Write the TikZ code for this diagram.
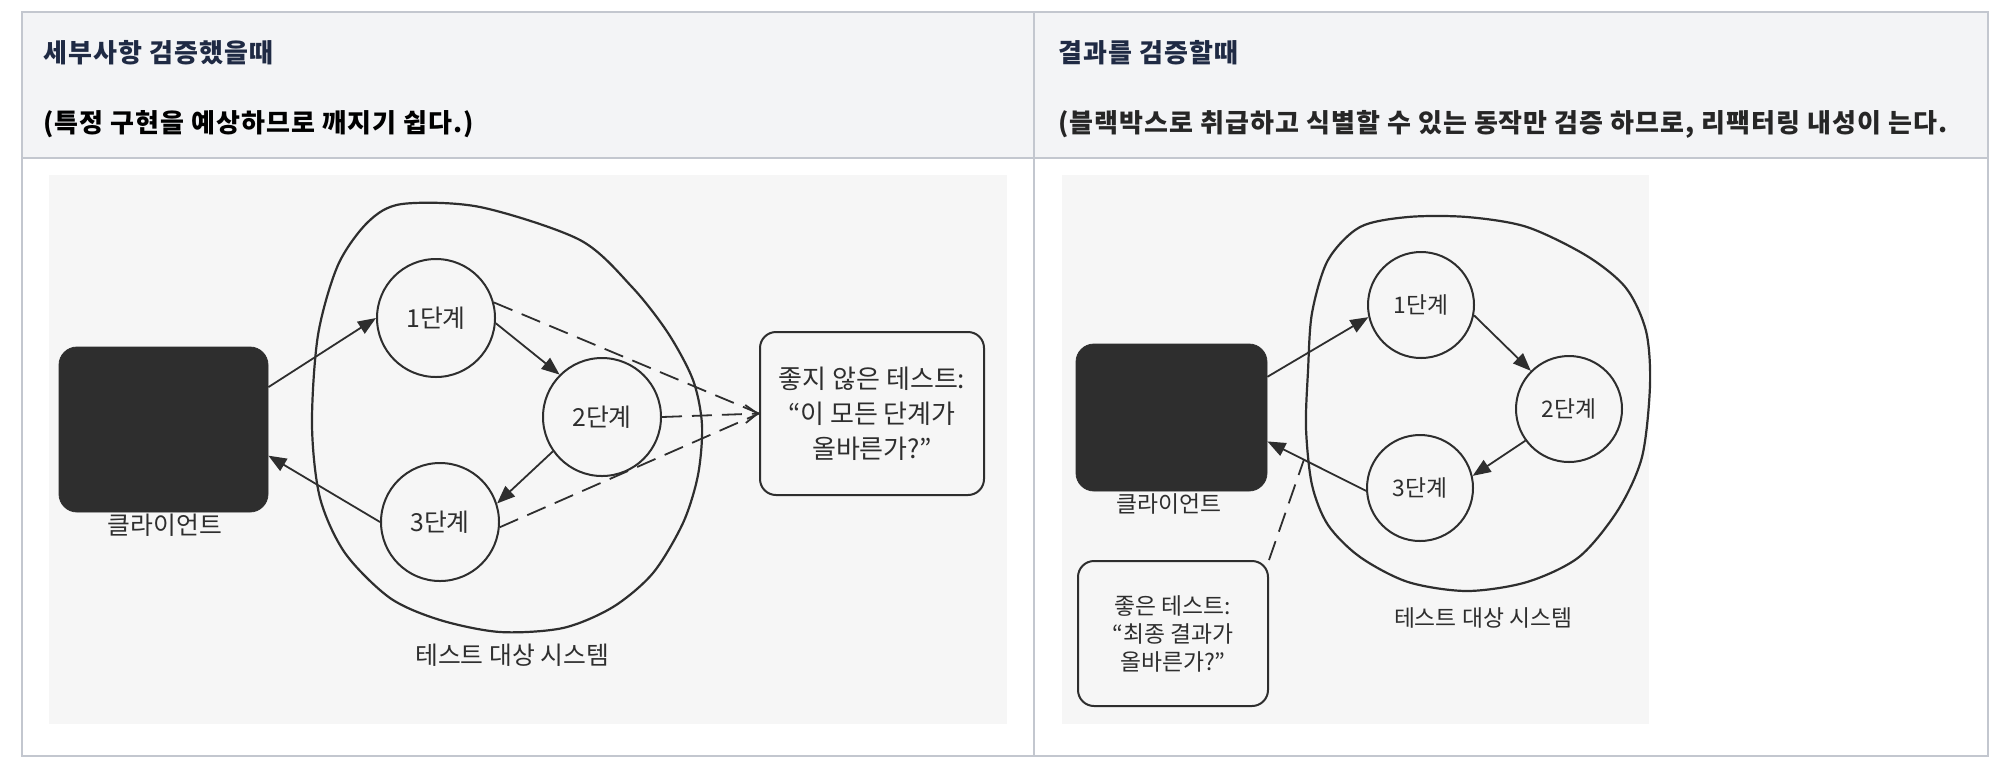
\documentclass[tikz,border=0pt]{standalone}
\usepackage{fontspec}
\setmainfont{Noto Sans CJK KR}
\usepackage{xcolor}
\usepackage{tikz}
\usetikzlibrary{arrows.meta,positioning}

\definecolor{rule}{HTML}{C3C7CF}
\definecolor{headbg}{HTML}{F3F4F6}
\definecolor{navy}{HTML}{1F2A44}
\definecolor{ink}{HTML}{2E2E2E}
\definecolor{photo}{HTML}{F6F6F6}

\begin{document}
\begin{tikzpicture}[x=0.5pt,y=-0.5pt,
  every node/.style={font=\fontsize{12.4pt}{15pt}\selectfont,text=ink},
  small/.style={font=\fontsize{11.4pt}{14pt}\selectfont},
  head/.style={anchor=west,inner sep=0pt,
    font=\fontsize{13pt}{15pt}\selectfont\bfseries\addfontfeatures{LetterSpace=4}},
  stage/.style={draw=ink,line width=1pt,circle,inner sep=0pt,minimum size=59pt},
  client/.style={draw=ink,fill=ink,rounded corners=9pt,inner sep=0pt},
  note/.style={draw=ink,line width=1pt,rounded corners=8pt,align=center,inner sep=0pt},
  arr/.style={draw=ink,line width=0.9pt,-{Triangle[length=9pt,width=7pt]}},
  look/.style={draw=ink,line width=0.9pt,dash pattern=on 10pt off 5pt}]
  \useasboundingbox (0,0) rectangle (1996,778);
  % table
  \fill[headbg] (22,12) rectangle (1988,158);
  \fill[photo] (49,175) rectangle (1007,724);
  \fill[photo] (1062,175) rectangle (1649,724);
  \draw[rule,line width=1pt] (22,12) rectangle (1988,756);
  \draw[rule,line width=1pt] (22,158) -- (1988,158);
  \draw[rule,line width=1pt] (1034,12) -- (1034,756);
  \node[head,text=navy] (h1) at (43,53) {세부사항 검증했을때};
  \node[head,text=black] (h2) at (43,124) {(특정 구현을 예상하므로 깨지기 쉽다.)};
  \node[head,text=navy] (h3) at (1058,53) {결과를 검증할때};
  \node[head,text=black!85] (h4) at (1058,124) {(블랙박스로 취급하고 식별할 수 있는 동작만 검증 하므로, 리팩터링 내성이 는다.};
  % details: system
  \draw[ink,line width=1.1pt] plot[smooth cycle] coordinates {(402,204) (480,207)
    (580,240) (632,287) (668,333) (693,380) (702,425) (698,475) (683,523) (653,573)
    (613,607) (563,628) (500,632) (440,620) (390,598) (345,553) (320,498) (312,425)
    (318,335) (338,265) (368,222)};
  \node[client,minimum width=104.5pt,minimum height=82.5pt] (cl) at (163.5,429.5) {};
  \node (cllab) at (165,525) {클라이언트};
  \node[stage] (s1) at (436,318) {1단계};
  \node[stage] (s2) at (602,417) {2단계};
  \node[stage] (s3) at (440,522) {3단계};
  \node (sut) at (512,655) {테스트 대상 시스템};
  \node[note,minimum width=112pt,minimum height=81.5pt,
        font=\fontsize{13pt}{17.5pt}\selectfont] (bad) at (872,413.5)
        {좋지 않은 테스트:\\“이 모든 단계가\\올바른가?”};
  % details: arrows
  \draw[arr] (cl.22) -- (s1.west);
  \draw[arr] (s1.-5) -- (s2.135);
  \draw[arr] (s2.215) -- (s3.18);
  \draw[arr] (s3.west) -- (cl.-14);
  \foreach \s/\a in {s1/15,s3/-5}
    \draw[look] (\s.\a) -- (bad.west);
  \draw[look,-{Straight Barb[length=6pt,width=9pt]}] (s2.east) -- (bad.west);
  % result: system
  \draw[ink,line width=1.1pt] plot[smooth cycle] coordinates {(1312,313) (1328,260)
    (1360,227) (1408,217) (1467,217) (1527,227) (1587,256) (1626,288) (1646,331)
    (1650,385) (1642,457) (1618,510) (1579,557) (1527,582) (1467,591) (1408,582)
    (1360,557) (1328,525) (1312,485) (1306,428) (1308,371)};
  \node[client,minimum width=95.5pt,minimum height=73.5pt] (cr) at (1171.5,417.5) {};
  \node[small] (crlab) at (1169,504) {클라이언트};
  \node[stage,small,minimum size=53pt] (r1) at (1421,305) {1단계};
  \node[stage,small,minimum size=53pt] (r2) at (1569,409) {2단계};
  \node[stage,small,minimum size=53pt] (r3) at (1420,488) {3단계};
  \node[small] (sutr) at (1483,618) {테스트 대상 시스템};
  \node[note,minimum width=95pt,minimum height=72.5pt,
        font=\fontsize{11.4pt}{14pt}\selectfont] (good) at (1173,633.5)
        {좋은 테스트:\\“최종 결과가\\올바른가?”};
  % result: arrows
  \draw[arr] (cr.23) -- (r1.193);
  \draw[arr] (r1.-11) -- (r2.135);
  \draw[arr] (r2.216) -- (r3.13);
  \draw[arr] (r3.183) -- (cr.-14) coordinate[pos=0.63] (seen);
  \draw[look] (good.north east) -- (seen);
\end{tikzpicture}
\end{document}
